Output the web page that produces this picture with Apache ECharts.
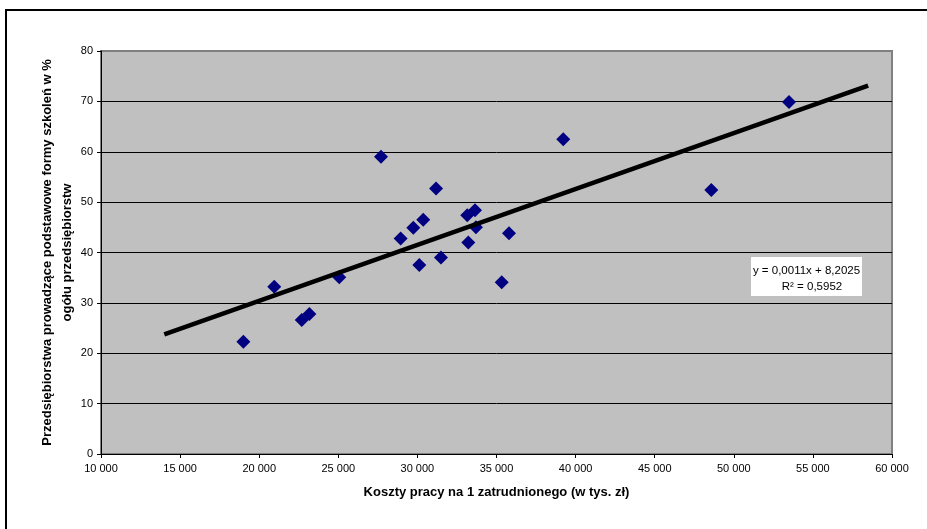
<!DOCTYPE html>
<html>
<head>
<meta charset="utf-8">
<script src="https://cdn.jsdelivr.net/npm/echarts@6/dist/echarts.min.js"></script>
<style>
  html, body { margin: 0; padding: 0; background: #fff; }
  #chart { width: 927px; height: 529px; }
</style>
</head>
<body>
<div id="chart"></div>
<script>
// Labour cost per employee vs. share of enterprises running basic training
const laborCost = [19000, 20950, 22690, 23170, 25060, 27700, 28940, 29740, 30120, 30370, 31180,
                   31490, 33220, 33150, 33640, 33700, 35330, 35790, 39220, 48580, 53490];
const trainingShare = [22.3, 33.2, 26.6, 27.8, 35.1, 59.0, 42.8, 44.9, 37.5, 46.5, 52.7,
                       39.0, 42.0, 47.4, 48.4, 45.0, 34.1, 43.8, 62.5, 52.4, 69.9];

// Linear trend (forecast 5000 backward and forward beyond the data range)
const trendSlope = 0.00111;
const trendIntercept = 8.2025;
const trendR2 = 0.5952;
const trendForecast = 5000;

const xTitle = 'Koszty pracy na 1 zatrudnionego (w tys. zł)';
const yTitle = 'Przedsiębiorstwa prowadzące podstawowe formy szkoleń w %\nogółu przedsiębiorstw';

const FONT = '"Liberation Sans", Arial, sans-serif';

const points = laborCost.map((x, i) => [x, trainingShare[i]]);
const xStart = Math.min(...laborCost) - trendForecast;
const xEnd = Math.max(...laborCost) + trendForecast;
const trendLine = [xStart, xEnd].map(x => [x, trendIntercept + trendSlope * x]);

const fmtPl = (v, d) => v.toFixed(d).replace('.', ',');
const eqText = 'y = ' + fmtPl(trendSlope, 4) + 'x + ' + fmtPl(trendIntercept, 4);
const r2Text = 'R² = ' + fmtPl(trendR2, 4);
const thousands = v => String(v).replace(/\B(?=(\d{3})+(?!\d))/g, ' ');

const chart = echarts.init(document.getElementById('chart'), null, { renderer: 'canvas' });

chart.setOption({
  backgroundColor: '#ffffff',
  animation: false,
  textStyle: { fontFamily: FONT },
  grid: {
    left: 101, right: 35, top: 51, bottom: 75,
    show: true,
    backgroundColor: '#C0C0C0',
    borderColor: '#808080',
    borderWidth: 2
  },
  xAxis: {
    type: 'value',
    min: 10000, max: 60000, interval: 5000,
    name: xTitle,
    nameLocation: 'middle',
    nameGap: 32,
    nameMoveOverlap: false,
    nameTextStyle: { fontFamily: FONT, fontSize: 13, fontWeight: 'bold', color: '#000' },
    axisLine: { show: true, onZero: false, lineStyle: { color: '#000', width: 1 } },
    axisTick: { show: true, length: 4, lineStyle: { color: '#000' } },
    axisLabel: { fontFamily: FONT, fontSize: 11, color: '#000', margin: 9, formatter: thousands },
    splitLine: { show: false }
  },
  yAxis: {
    type: 'value',
    min: 0, max: 80, interval: 10,
    name: yTitle,
    nameLocation: 'middle',
    nameGap: 24,
    nameMoveOverlap: false,
    nameTextStyle: { fontFamily: FONT, fontSize: 13, fontWeight: 'bold', color: '#000', lineHeight: 20 },
    axisLine: { show: true, onZero: false, lineStyle: { color: '#000', width: 1 } },
    axisTick: { show: true, length: 4, lineStyle: { color: '#000' } },
    axisLabel: { fontFamily: FONT, fontSize: 11, color: '#000', margin: 8 },
    splitLine: { show: true, showMinLine: false, showMaxLine: false, lineStyle: { color: '#000', width: 1 } }
  },
  series: [
    {
      type: 'scatter',
      data: points,
      symbol: 'diamond',
      symbolSize: 14,
      itemStyle: { color: '#000080', opacity: 1 },
      z: 3
    },
    {
      type: 'line',
      data: trendLine,
      symbol: 'none',
      lineStyle: { color: '#000', width: 4.5 },
      silent: true,
      z: 4
    }
  ],
  graphic: [
    // outer frame
    { type: 'line', shape: { x1: 5, y1: 10, x2: 927, y2: 10 }, style: { stroke: '#000', lineWidth: 2 } },
    { type: 'line', shape: { x1: 6, y1: 9, x2: 6, y2: 529 }, style: { stroke: '#000', lineWidth: 2 } },
    // trend equation box
    {
      type: 'group', x: 751, y: 257, z: 10,
      children: [
        { type: 'rect', shape: { x: 0, y: 0, width: 111, height: 39 }, style: { fill: '#fff' } },
        { type: 'text', x: 55.5, y: 13.5,
          style: { text: eqText, font: '11.5px ' + FONT, fill: '#000', align: 'center', verticalAlign: 'middle' } },
        { type: 'text', x: 61, y: 30,
          style: { text: r2Text, font: '11.5px ' + FONT, fill: '#000', align: 'center', verticalAlign: 'middle' } }
      ]
    }
  ]
});
</script>
</body>
</html>
